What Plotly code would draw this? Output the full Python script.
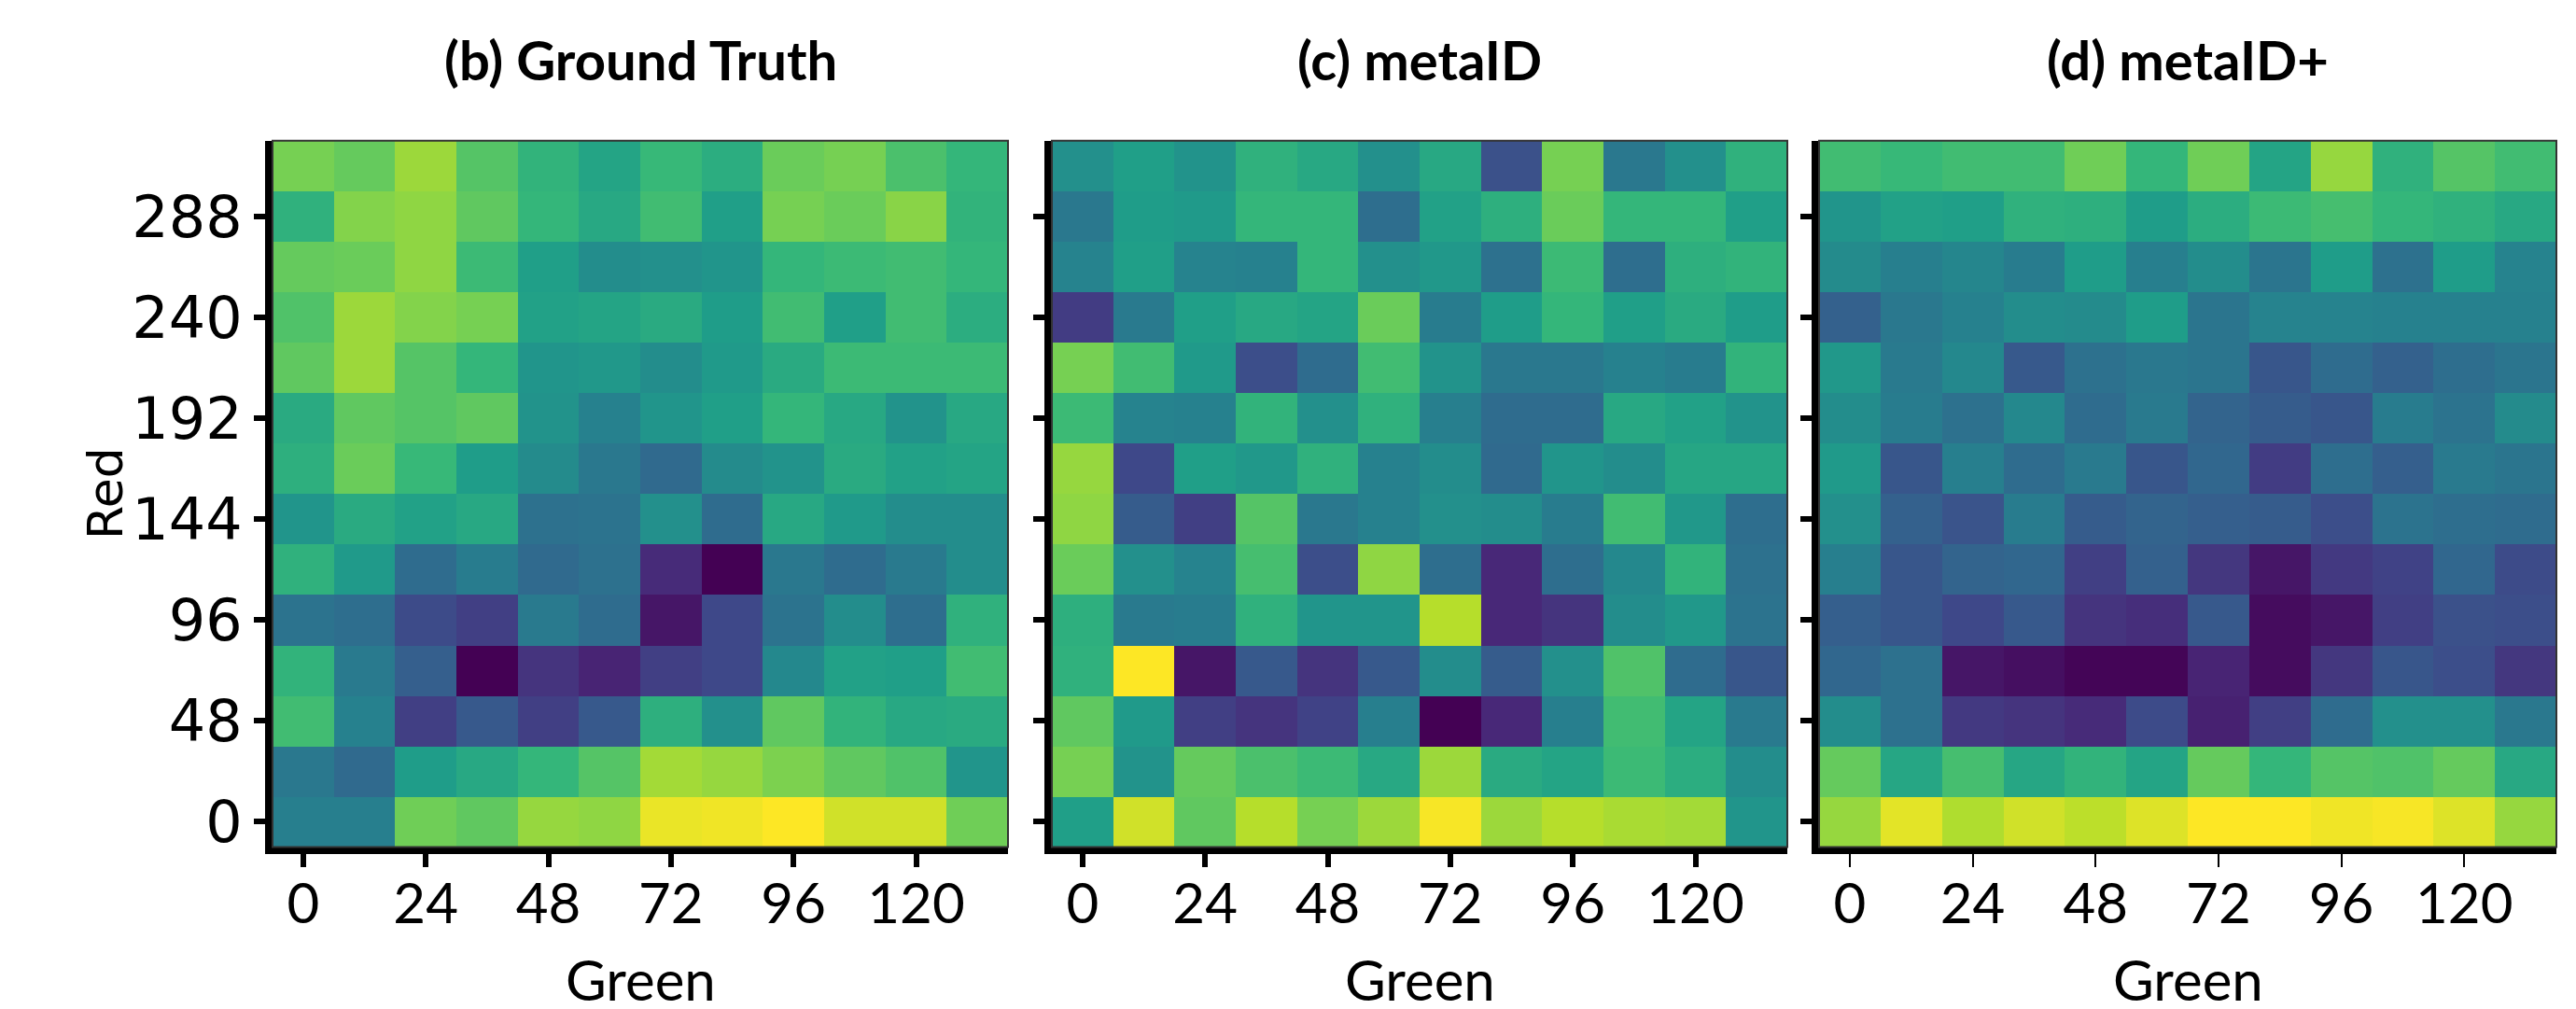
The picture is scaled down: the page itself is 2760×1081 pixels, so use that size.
import plotly.graph_objects as go

# ---------------- data ----------------
green_vals = [0, 12, 24, 36, 48, 60, 72, 84, 96, 108, 120, 132]
red_vals = [0, 24, 48, 72, 96, 120, 144, 168, 192, 216, 240, 264, 288, 312]
x_ticks = [0, 24, 48, 72, 96, 120]
y_ticks = [0, 48, 96, 144, 192, 240, 288]
titles = ["(b) Ground Truth", "(c) metaID", "(d) metaID+"]
x_label = "Green"
y_label = "Red"

# rows listed from Red = 312 (top) down to Red = 0 (bottom); values 0..100
ground_truth = [
    [79, 76, 85, 73, 65, 58, 67, 62, 77, 79, 71, 66],
    [64, 81, 83, 75, 66, 60, 69, 56, 79, 77, 82, 65],
    [76, 77, 83, 68, 56, 49, 50, 52, 66, 68, 69, 66],
    [72, 85, 81, 79, 57, 58, 61, 55, 69, 56, 69, 62],
    [75, 85, 73, 66, 52, 53, 49, 54, 61, 68, 68, 68],
    [61, 75, 73, 75, 51, 44, 52, 56, 66, 60, 51, 60],
    [63, 77, 67, 55, 48, 40, 34, 48, 51, 61, 57, 58],
    [52, 61, 57, 60, 37, 38, 50, 35, 60, 54, 49, 49],
    [64, 54, 35, 42, 34, 37, 12, 0, 40, 35, 41, 49],
    [38, 36, 23, 19, 41, 35, 6, 22, 38, 49, 36, 64],
    [65, 41, 30, 0, 15, 10, 19, 22, 47, 57, 56, 69],
    [69, 44, 19, 28, 19, 28, 63, 50, 75, 65, 60, 61],
    [40, 34, 55, 60, 66, 73, 86, 84, 80, 75, 72, 52],
    [43, 43, 78, 75, 84, 83, 97, 98, 100, 93, 93, 78],
]
metaid = [
    [50, 56, 51, 64, 60, 50, 60, 25, 79, 40, 50, 64],
    [40, 55, 54, 66, 66, 36, 57, 63, 77, 66, 66, 56],
    [45, 56, 45, 44, 66, 50, 53, 37, 68, 36, 63, 65],
    [18, 41, 56, 60, 58, 77, 42, 55, 66, 56, 61, 55],
    [79, 69, 54, 24, 35, 69, 51, 40, 40, 44, 42, 65],
    [68, 45, 44, 65, 50, 64, 43, 35, 35, 60, 57, 51],
    [84, 22, 56, 53, 64, 44, 49, 34, 52, 49, 59, 59],
    [83, 29, 19, 73, 40, 44, 50, 49, 42, 69, 53, 36],
    [77, 50, 45, 70, 24, 83, 36, 11, 36, 47, 65, 37],
    [63, 41, 42, 64, 52, 52, 89, 11, 15, 49, 53, 38],
    [64, 100, 6, 28, 15, 28, 49, 29, 50, 72, 35, 27],
    [75, 54, 19, 15, 20, 43, 0, 11, 43, 69, 58, 41],
    [79, 51, 76, 71, 68, 60, 85, 61, 58, 68, 62, 49],
    [56, 93, 75, 89, 79, 85, 99, 85, 89, 87, 86, 52],
]
metaid_plus = [
    [69, 67, 69, 69, 78, 66, 78, 58, 84, 64, 73, 69],
    [52, 57, 56, 64, 63, 55, 62, 68, 70, 66, 64, 60],
    [48, 43, 46, 42, 55, 43, 49, 39, 55, 37, 55, 45],
    [31, 40, 44, 49, 48, 55, 39, 45, 45, 44, 44, 44],
    [53, 41, 47, 28, 37, 40, 39, 27, 35, 31, 36, 39],
    [49, 42, 37, 47, 35, 41, 32, 29, 27, 42, 38, 48],
    [54, 27, 43, 35, 41, 27, 33, 18, 36, 30, 41, 39],
    [50, 31, 26, 42, 29, 32, 30, 29, 24, 38, 36, 35],
    [43, 27, 32, 33, 19, 31, 16, 6, 17, 20, 33, 23],
    [30, 27, 22, 28, 15, 13, 28, 3, 6, 19, 25, 24],
    [33, 37, 6, 4, 1, 1, 10, 3, 16, 27, 24, 16],
    [49, 37, 17, 15, 12, 23, 9, 19, 35, 50, 50, 40],
    [76, 59, 70, 59, 65, 58, 76, 66, 73, 72, 76, 60],
    [84, 96, 88, 93, 90, 95, 100, 100, 98, 99, 95, 84],
]
panels = [ground_truth, metaid, metaid_plus]

# ---------------- layout geometry ----------------
W, H = 2760, 1081
x_domains = [(284, 1072), (1119, 1907), (1941, 2731)]
y_top, y_bot = 144, 907
y_domain = [(H - y_bot) / H, (H - y_top) / H]

X_FONT = dict(family="Lato, Open Sans, sans-serif", size=60, color="black")
Y_FONT = dict(family="DejaVu Sans, sans-serif", size=62, color="black")
R_FONT = dict(family="DejaVu Sans, sans-serif", size=52, color="black")
T_FONT = dict(family="Lato, Open Sans, sans-serif", size=58, color="black")

fig = go.Figure()
for i, z in enumerate(panels):
    suffix = "" if i == 0 else str(i + 1)
    fig.add_trace(go.Heatmap(
        x=green_vals, y=red_vals, z=z[::-1],
        colorscale="Viridis", zmin=0, zmax=100, showscale=False,
        xaxis="x" + suffix, yaxis="y" + suffix, xgap=0, ygap=0,
    ))

layout = dict(
    width=W, height=H, margin=dict(l=0, r=0, t=0, b=0),
    paper_bgcolor="white", plot_bgcolor="white", showlegend=False,
)
for i in range(3):
    suffix = "" if i == 0 else str(i + 1)
    d0, d1 = x_domains[i]
    layout["xaxis" + suffix] = dict(
        domain=[d0 / W, d1 / W], anchor="y" + suffix,
        range=[-6, 138], tickmode="array", tickvals=x_ticks,
        ticks="outside", ticklen=14, tickwidth=6 if i < 2 else 2, tickcolor="black",
        showline=True, linewidth=8, linecolor="black",
        showgrid=False, zeroline=False, tickfont=X_FONT,
        ticklabelstandoff=-12,
    )
    layout["yaxis" + suffix] = dict(
        domain=y_domain, anchor="x" + suffix,
        range=[-12, 324], tickmode="array", tickvals=y_ticks,
        ticks="outside", ticklen=12, tickwidth=6, tickcolor="black",
        showline=True, linewidth=8, linecolor="black",
        showgrid=False, zeroline=False, tickfont=Y_FONT,
        showticklabels=(i == 0),
    )
# thick ticks only at 0 and 24 on the last panel (as in the reference)
layout["xaxis4"] = dict(
    overlaying="x3", anchor="y3", range=[-6, 138], tickmode="array",
    tickvals=x_ticks[:2], ticks="outside", ticklen=14, tickwidth=6,
    tickcolor="black", showticklabels=False, showline=False,
    showgrid=False, zeroline=False,
)
fig.update_layout(**layout)

for i in range(3):
    suffix = "" if i == 0 else str(i + 1)
    # thin frame around each panel
    fig.add_shape(type="rect", xref="x" + suffix + " domain", yref="y" + suffix + " domain",
                  x0=0, x1=1, y0=0, y1=1, line=dict(color="#333333", width=2),
                  fillcolor="rgba(0,0,0,0)", layer="above")
    fig.add_annotation(
        text="<b>" + titles[i] + "</b>", xref="x" + suffix + " domain", x=0.5,
        yref="paper", y=1 - 56 / H, yanchor="middle", showarrow=False, font=T_FONT,
    )
    fig.add_annotation(
        text=x_label, xref="x" + suffix + " domain", x=0.5,
        yref="paper", y=1 - 1050 / H, yanchor="middle", showarrow=False, font=X_FONT,
    )
fig.add_annotation(
    text=y_label, xref="paper", x=105 / W, yref="y domain", y=0.5,
    xanchor="center", yanchor="middle", textangle=-90, showarrow=False, font=R_FONT,
)

fig.write_html("out.html", config={"displayModeBar": False})
